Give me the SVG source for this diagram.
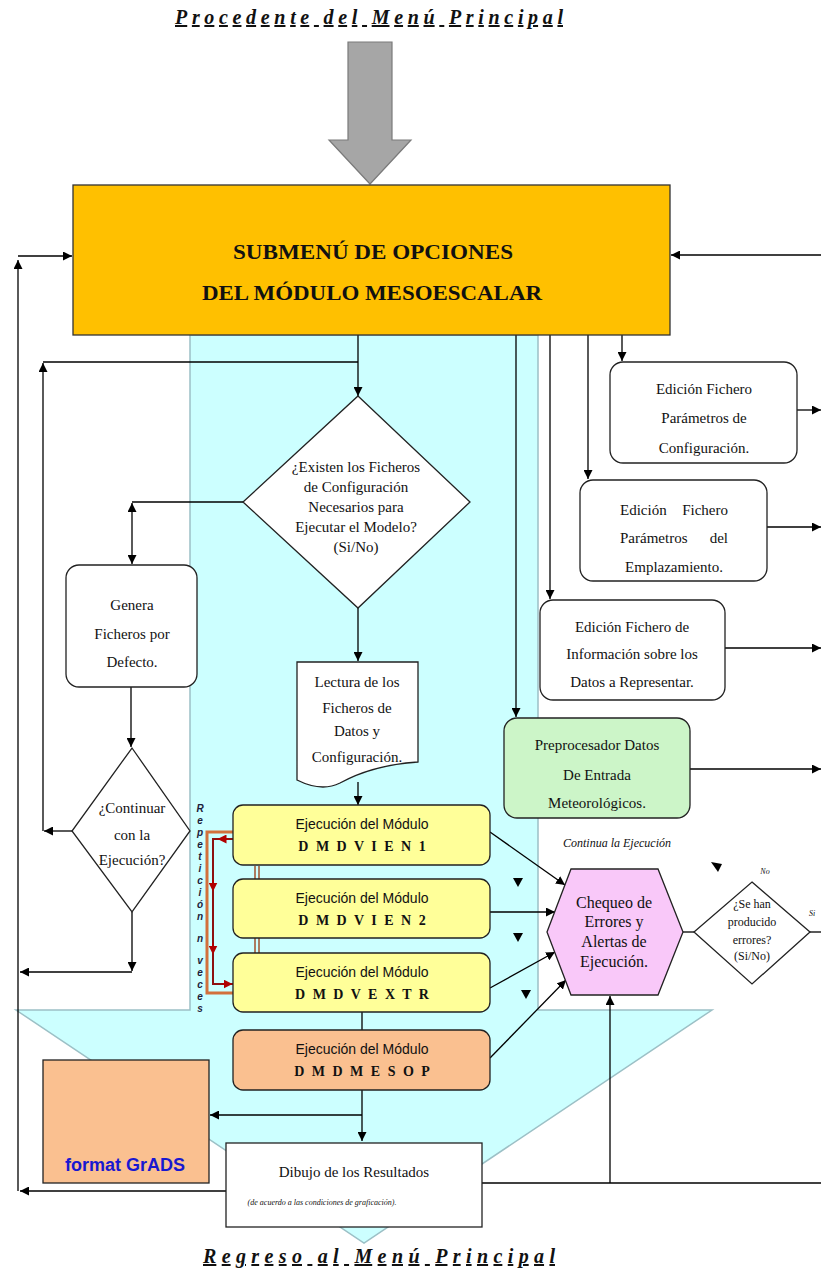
<svg xmlns="http://www.w3.org/2000/svg" width="821" height="1274" viewBox="0 0 821 1274">
<defs>
  <marker id="ah" viewBox="0 0 10 10" refX="10" refY="5" markerWidth="9" markerHeight="9" markerUnits="userSpaceOnUse" orient="auto-start-reverse">
    <path d="M0,0 L10,5 L0,10 z" fill="#000"/>
  </marker>
  <marker id="ahr" viewBox="0 0 10 10" refX="5" refY="5" markerWidth="9" markerHeight="9" markerUnits="userSpaceOnUse" orient="auto">
    <path d="M0,0 L10,5 L0,10 z" fill="#B00000"/>
  </marker>
</defs>
<style>
  .c{fill:none;stroke:#000;stroke-width:1.3}
  .a{marker-end:url(#ah)}
  .box{stroke:#222;stroke-width:1.3}
  .t{font-family:"Liberation Serif","Times New Roman",serif;font-size:15px;fill:#111;text-anchor:middle}
  .ts{font-family:"Liberation Sans",Arial,sans-serif;font-size:14px;fill:#111;text-anchor:middle}
  .tb{font-family:"Liberation Serif","Times New Roman",serif;font-size:14px;font-weight:bold;fill:#111;text-anchor:middle;letter-spacing:2px}
  .title{font-family:"Liberation Serif","Times New Roman",serif;font-size:20px;font-weight:bold;font-style:italic;fill:#111;text-decoration:underline}
  .rep{font-family:"Liberation Sans",Arial,sans-serif;font-size:10px;font-weight:bold;font-style:italic;fill:#1c1c3a;text-anchor:middle}
  .tip{fill:#000}
</style>

<rect width="821" height="1274" fill="#fff"/>

<!-- large cyan flow arrow in the background -->
<g id="flow-band">
  <polygon points="190,335 538,335 538,1010 712,1010 364,1243 16,1010 190,1010" fill="#CCFFFF" stroke="#9CC0C6" stroke-width="1.5"/>
</g>

<!-- entry title -->
<g id="title-top">
  <text class="title" x="175" y="24" textLength="388" lengthAdjust="spacing">Procedente del Menú Principal</text>
</g>

<!-- gray entry arrow -->
<g id="entry-arrow">
  <polygon points="348,42 392,42 392,140 411,140 370,184 329,140 348,140" fill="#A6A6A6" stroke="#7a7a7a" stroke-width="1.2"/>
</g>

<!-- connectors -->
<g id="connectors">
  <!-- outer left return loop -->
  <path class="c a" d="M18,1191 V260"/>
  <path class="c a" d="M18,256 H72"/>
  <!-- right return -->
  <path class="c a" d="M821,255 H671"/>
  <!-- main trunk -->
  <path class="c a" d="M358,335 V396"/>
  <path class="c" d="M43,362 H358"/>
  <path class="c a" d="M72,831 H44"/>
  <path class="c a" d="M43,831 V363"/>
  <!-- diamond left branch -->
  <path class="c" d="M243,502 H132"/>
  <path class="c" d="M132,503 V564" marker-start="url(#ah)" marker-end="url(#ah)"/>
  <path class="c a" d="M131,687 V747"/>
  <path class="c a" d="M132,912 V971"/>
  <path class="c a" d="M132,972 H20"/>
  <!-- diamond down branch -->
  <path class="c a" d="M358,608 V661"/>
  <path class="c a" d="M358,782 V805"/>
  <path class="c" d="M362,1012 V1030"/>
  <path class="c a" d="M362,1090 V1141"/>
  <path class="c a" d="M362,1115 H210"/>
  <path class="c a" d="M226,1191 H20"/>
  <path class="c" d="M482,1183 H821"/>
  <path class="c a" d="M610,1183 V996"/>
  <!-- branches from the submenu -->
  <path class="c a" d="M516,335 V717"/>
  <path class="c a" d="M550,335 V599"/>
  <path class="c a" d="M588,335 V479"/>
  <path class="c a" d="M622,335 V361"/>
  <!-- outputs to the right -->
  <path class="c a" d="M797,410 H821"/>
  <path class="c a" d="M767,527 H821"/>
  <path class="c a" d="M725,648 H821"/>
  <path class="c a" d="M690,769 H821"/>
  <!-- modules to error check -->
  <path class="c a" d="M490,832 L565,885"/>
  <path class="c a" d="M490,912 L555,912"/>
  <path class="c a" d="M490,988 L555,952"/>
  <path class="c a" d="M490,1058 L566,980"/>
  <path class="c" d="M683,932 H694"/>
  <path class="c" d="M810,932 H821"/>
  <!-- stray arrowheads -->
  <polygon class="tip" points="513,878 523,878 518,887"/>
  <polygon class="tip" points="513,933 523,933 518,942"/>
  <polygon class="tip" points="521,990 531,990 526,999"/>
  <polygon class="tip" points="711,862 722,864 718,872"/>
  <!-- repetition loop -->
  <path d="M233,832 H207 V993 H233" fill="none" stroke="#D2703C" stroke-width="3"/>
  <path d="M233,839 H213 V984 H233" fill="none" stroke="#8E1010" stroke-width="2"/>
  <path d="M228,839 L222,839" fill="none" stroke="#B00000" stroke-width="2" marker-end="url(#ahr)"/>
  <path d="M213,880 L213,887" fill="none" stroke="#B00000" stroke-width="2" marker-end="url(#ahr)"/>
  <path d="M213,943 L213,950" fill="none" stroke="#B00000" stroke-width="2" marker-end="url(#ahr)"/>
  <path d="M222,984 L228,984" fill="none" stroke="#B00000" stroke-width="2" marker-end="url(#ahr)"/>
  <path d="M255,866 V879 M259,866 V879 M255,938 V953 M259,938 V953" fill="none" stroke="#A0522D" stroke-width="1.5"/>
</g>

<!-- submenu -->
<g id="submenu">
  <rect x="73" y="185" width="597" height="150" fill="#FFC000" stroke="#333" stroke-width="1.3"/>
  <text x="373" y="259" textLength="280" lengthAdjust="spacingAndGlyphs" style="font-family:'Liberation Serif','Times New Roman',serif;font-size:21px;font-weight:bold;text-anchor:middle;fill:#111">SUBMENÚ DE OPCIONES</text>
  <text x="372" y="300" textLength="340" lengthAdjust="spacingAndGlyphs" style="font-family:'Liberation Serif','Times New Roman',serif;font-size:21px;font-weight:bold;text-anchor:middle;fill:#111">DEL MÓDULO MESOESCALAR</text>
</g>

<!-- decision: configuration files -->
<g id="dec-config">
  <polygon class="box" points="358,396 470,502 358,608 243,502" fill="#fff"/>
  <text class="t" x="356" y="472">¿Existen los Ficheros</text>
  <text class="t" x="356" y="492">de Configuración</text>
  <text class="t" x="356" y="512">Necesarios para</text>
  <text class="t" x="356" y="532">Ejecutar el Modelo?</text>
  <text class="t" x="356" y="552">(Si/No)</text>
</g>

<!-- default files -->
<g id="gen-default">
  <rect class="box" x="66" y="565" width="131" height="122" rx="13" fill="#fff"/>
  <text class="t" x="132" y="610">Genera</text>
  <text class="t" x="132" y="639">Ficheros por</text>
  <text class="t" x="132" y="667">Defecto.</text>
</g>

<!-- decision: continue -->
<g id="dec-continue">
  <polygon class="box" points="132,748 190,831 132,912 72,831" fill="#fff"/>
  <text class="t" x="132" y="813">¿Continuar</text>
  <text class="t" x="132" y="840">con la</text>
  <text class="t" x="132" y="865">Ejecución?</text>
</g>

<!-- read data document -->
<g id="read-data">
  <path class="box" d="M297,662 H418 V762 C385,764 360,772 340,783 C322,792 305,784 297,780 Z" fill="#fff"/>
  <text class="t" x="357" y="687">Lectura de los</text>
  <text class="t" x="357" y="713">Ficheros de</text>
  <text class="t" x="357" y="736">Datos y</text>
  <text class="t" x="357" y="762">Configuración.</text>
</g>

<!-- edit config -->
<g id="edit-config">
  <rect class="box" x="610" y="362" width="187" height="101" rx="13" fill="#fff"/>
  <text class="t" x="704" y="394">Edición Fichero</text>
  <text class="t" x="704" y="423">Parámetros de</text>
  <text class="t" x="704" y="453">Configuración.</text>
</g>

<!-- edit site -->
<g id="edit-site">
  <rect class="box" x="580" y="480" width="187" height="101" rx="13" fill="#fff"/>
  <text class="t" x="620" y="515" style="text-anchor:start">Edición</text>
  <text class="t" x="728" y="515" style="text-anchor:end">Fichero</text>
  <text class="t" x="620" y="543" style="text-anchor:start">Parámetros</text>
  <text class="t" x="728" y="543" style="text-anchor:end">del</text>
  <text class="t" x="674" y="572">Emplazamiento.</text>
</g>

<!-- edit data info -->
<g id="edit-info">
  <rect class="box" x="540" y="600" width="185" height="100" rx="13" fill="#fff"/>
  <text class="t" x="632" y="632">Edición Fichero de</text>
  <text class="t" x="632" y="659">Información sobre los</text>
  <text class="t" x="632" y="687">Datos a Representar.</text>
</g>

<!-- preprocessor -->
<g id="preproc">
  <rect class="box" x="504" y="718" width="186" height="100" rx="13" fill="#CCF5C8"/>
  <text class="t" x="597" y="750">Preprocesador Datos</text>
  <text class="t" x="597" y="780">De Entrada</text>
  <text class="t" x="597" y="808">Meteorológicos.</text>
</g>

<!-- modules -->
<g id="mod-vien1">
  <rect class="box" x="233" y="805" width="257" height="60" rx="10" fill="#FFFF99"/>
  <text class="ts" x="362" y="829">Ejecución del Módulo</text>
  <text class="tb" x="363" y="851">D M D V I E N 1</text>
</g>
<g id="mod-vien2">
  <rect class="box" x="233" y="879" width="257" height="59" rx="10" fill="#FFFF99"/>
  <text class="ts" x="362" y="903">Ejecución del Módulo</text>
  <text class="tb" x="363" y="925">D M D V I E N 2</text>
</g>
<g id="mod-vextr">
  <rect class="box" x="233" y="953" width="257" height="59" rx="10" fill="#FFFF99"/>
  <text class="ts" x="362" y="977">Ejecución del Módulo</text>
  <text class="tb" x="363" y="999">D M D V E X T R</text>
</g>
<g id="mod-mesop">
  <rect class="box" x="233" y="1030" width="257" height="60" rx="10" fill="#FAC090"/>
  <text class="ts" x="362" y="1054">Ejecución del Módulo</text>
  <text class="tb" x="363" y="1076">D M D M E S O P</text>
</g>

<!-- repetition label, one letter per row -->
<g id="rep-label">
  <text class="rep">
    <tspan x="200" y="812">R</tspan><tspan x="200" y="824">e</tspan><tspan x="200" y="836">p</tspan><tspan x="200" y="848">e</tspan><tspan x="200" y="860">t</tspan><tspan x="200" y="872">i</tspan><tspan x="200" y="884">c</tspan><tspan x="200" y="896">i</tspan><tspan x="200" y="908">ó</tspan><tspan x="200" y="920">n</tspan><tspan x="200" y="942">n</tspan><tspan x="200" y="964">v</tspan><tspan x="200" y="976">e</tspan><tspan x="200" y="988">c</tspan><tspan x="200" y="1000">e</tspan><tspan x="200" y="1012">s</tspan>
  </text>
</g>

<!-- error check -->
<g id="error-check">
  <polygon class="box" points="547,932 571,869 658,869 683,932 658,995 571,995" fill="#F9C8F9"/>
  <text class="t" x="614" y="908" style="font-size:16px">Chequeo de</text>
  <text class="t" x="614" y="927" style="font-size:16px">Errores y</text>
  <text class="t" x="614" y="947" style="font-size:16px">Alertas de</text>
  <text class="t" x="614" y="967" style="font-size:16px">Ejecución.</text>
</g>

<!-- continue label -->
<g id="continue-label">
  <text class="t" x="617" y="847" style="font-size:12px;font-style:italic">Continua la Ejecución</text>
</g>

<!-- decision: errors -->
<g id="dec-errors">
  <polygon class="box" points="752,882 810,932 752,984 694,932" fill="#fff"/>
  <text class="t" x="752" y="908" style="font-size:12px">¿Se han</text>
  <text class="t" x="752" y="926" style="font-size:12px">producido</text>
  <text class="t" x="752" y="944" style="font-size:12px">errores?</text>
  <text class="t" x="752" y="960" style="font-size:12px">(Si/No)</text>
  <text class="t" x="765" y="874" style="font-size:8px;font-style:italic">No</text>
  <text class="t" x="812" y="916" style="font-size:8px;font-style:italic">Si</text>
</g>

<!-- GrADS format -->
<g id="grads">
  <rect class="box" x="43" y="1060" width="166" height="123" fill="#FAC090"/>
  <text x="125" y="1171" style="font-family:'Liberation Sans',Arial,sans-serif;font-size:18px;font-weight:bold;fill:#1818D0;text-anchor:middle">format GrADS</text>
</g>

<!-- results drawing -->
<g id="draw-results">
  <rect class="box" x="226" y="1143" width="256" height="84" fill="#fff"/>
  <text class="t" x="354" y="1177">Dibujo de los Resultados</text>
  <text class="t" x="322" y="1205" style="font-size:8px;font-style:italic">(de acuerdo a las condiciones de graficación).</text>
</g>

<!-- exit title -->
<g id="title-bottom">
  <text class="title" x="203" y="1263" textLength="352" lengthAdjust="spacing">Regreso al Menú Principal</text>
</g>
</svg>
